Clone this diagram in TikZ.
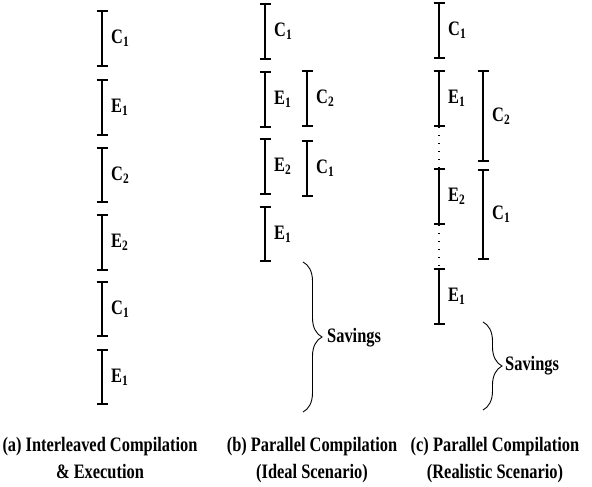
\documentclass[tikz,border=0pt]{standalone}
\usepackage{fontspec}
\setmainfont{Liberation Serif}[FakeStretch=0.8]
\usetikzlibrary{arrows.meta,decorations.pathreplacing}
\tikzset{
  seg/.style={line width=1.8pt, {Bar[width=11pt]}-{Bar[width=11pt]}},
  lab/.style={anchor=west, inner sep=0pt, font=\fontsize{20.5}{24}\selectfont\bfseries},
  capt/.style={anchor=base, inner sep=0pt, font=\fontsize{20.5}{24}\selectfont\bfseries},
  brc/.style={decorate, decoration={brace, amplitude=19pt}, line width=0.9pt},
  dotline/.style={line width=1.4pt, dash pattern=on 1.4pt off 6.6pt},
}
\begin{document}
\begin{tikzpicture}[x=1pt,y=-1pt]
\useasboundingbox (0,0) rectangle (592,487);
% segments: name/x/top/bottom/label
\foreach \n/\x/\t/\b/\l in {
  a1/102/10/67/{C\textsubscript{1}},
  a2/102/79/136/{E\textsubscript{1}},
  a3/102/147/203/{C\textsubscript{2}},
  a4/102/214/271/{E\textsubscript{2}},
  a5/102/281/337/{C\textsubscript{1}},
  a6/102/349/405/{E\textsubscript{1}},
  b1/265/3/60/{C\textsubscript{1}},
  b2/265/71/128/{E\textsubscript{1}},
  b3/265/138/195/{E\textsubscript{2}},
  b4/265/206/262/{E\textsubscript{1}},
  b5/307/70/127/{C\textsubscript{2}},
  b6/307/140/197/{C\textsubscript{1}},
  c1/439/2/59/{C\textsubscript{1}},
  c2/439/70/127/{E\textsubscript{1}},
  c3/439/168/225/{E\textsubscript{2}},
  c4/439/268/325/{E\textsubscript{1}},
  c5/483/70/162/{C\textsubscript{2}},
  c6/483/169/260/{C\textsubscript{1}}}{
  \coordinate (\n t) at (\x,\t);
  \coordinate (\n b) at (\x,\b);
  \draw[seg] (\n t) -- (\n b);
  \node[lab] (\n l) at ({\x+9},{(\t+\b)/2}) {\l};
}
% dotted waiting intervals
\draw[dotline] (c2b) -- (c3t);
\draw[dotline] (c3b) -- (c4t);
% braces
\coordinate (bbt) at (303,262);
\coordinate (bbb) at (303,412);
\draw[brc] (bbt) -- (bbb);
\node[lab] (sb) at (327,338) {Savings};
\coordinate (cbt) at (483,322);
\coordinate (cbb) at (483,410);
\draw[brc] (cbt) -- (cbb);
\node[lab] (sc) at (505,366) {Savings};
% captions
\node[capt] (ca1) at (100,451) {(a) Interleaved Compilation};
\node[capt] (ca2) at (100,478) {\& Execution};
\node[capt] (cb1) at (312,451) {(b) Parallel Compilation};
\node[capt] (cb2) at (312,478) {(Ideal Scenario)};
\node[capt] (cc1) at (495,451) {(c) Parallel Compilation};
\node[capt] (cc2) at (495,478) {(Realistic Scenario)};
\end{tikzpicture}
\end{document}
